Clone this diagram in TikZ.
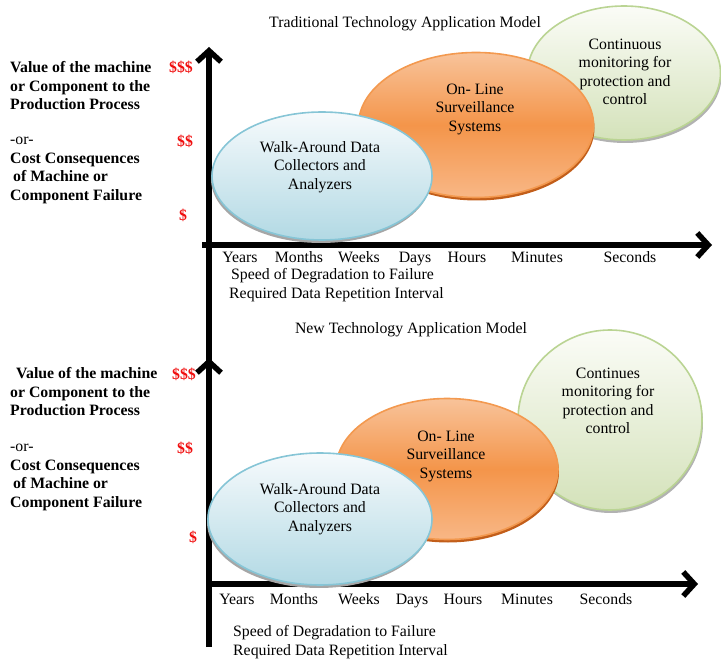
\documentclass[tikz,border=0pt]{standalone}
\usepackage{fontspec}
\setmainfont{Liberation Serif}
\usetikzlibrary{arrows.meta,shapes.geometric,shadows}
\definecolor{walkedge}{HTML}{86C5D6}
\definecolor{walktop}{HTML}{F6FAFC}
\definecolor{walkbot}{HTML}{B2D9E4}
\definecolor{lineedge}{HTML}{F3994F}
\definecolor{linetop}{HTML}{F8C39A}
\definecolor{linemid}{HTML}{F4954A}
\definecolor{linebot}{HTML}{F8B786}
\definecolor{linerim}{HTML}{C25E1A}
\definecolor{contedge}{HTML}{BAD493}
\definecolor{conttop}{HTML}{FBFCF7}
\definecolor{contbot}{HTML}{D4E2BA}
\definecolor{dollar}{HTML}{F01010}

\begin{document}
\begin{tikzpicture}[x=1pt,y=-1pt]
\tikzstyle{every node}=[font=\fontsize{15.8}{18.5}\selectfont,inner sep=0pt]
\tikzstyle{axis}=[line width=6pt,-{Straight Barb[length=11pt,width=24pt,line width=5.5pt]}]
\tikzstyle{blob}=[ellipse,line width=1.6pt]
\tikzstyle{walk}=[blob,draw=walkedge,top color=walktop,bottom color=walkbot,
  general shadow={fill=gray!70,shadow xshift=-1pt,shadow yshift=-3pt}]
\tikzstyle{online}=[blob,draw=lineedge,top color=linetop,bottom color=linebot,middle color=linemid,
  general shadow={fill=linerim,shadow xshift=1pt,shadow yshift=-3pt}]
\tikzstyle{cont}=[blob,draw=contedge,top color=conttop,bottom color=contbot,
  general shadow={fill=gray!60,shadow xshift=1pt,shadow yshift=-3pt}]
\tikzstyle{cost}=[align=left,anchor=west,font=\fontsize{15.8}{18.5}\selectfont\bfseries]
\tikzstyle{money}=[text=dollar,font=\fontsize{15.8}{18.5}\selectfont\bfseries]
\tikzstyle{tick}=[anchor=base]
\useasboundingbox (0,0) rectangle (721,660);

% traditional model
\node (title1) at (405,24) {Traditional Technology Application Model};
\coordinate (o1) at (209,432);
\coordinate (y1) at (209,47);
\coordinate (xs1) at (202,245);
\coordinate (x1) at (712,245);
\draw[axis] (o1) -- (y1);
\draw[axis] (xs1) -- (x1);
\node[cost] (val1) at (10,86) {Value of the machine\\or Component to the\\Production Process};
\node[anchor=west] (or1) at (10,141) {-or-};
\node[cost] (fail1) at (10,178) {Cost Consequences\\\hspace*{3pt}of Machine or\\Component Failure};
\node[money,anchor=east] (d3a) at (193,67) {\$\$\$};
\node[money] (d2a) at (185,141) {\$\$};
\node[money] (d1a) at (183,215) {\$};
\node[cont,minimum width=193pt,minimum height=134pt] (cont1) at (624,73) {};
\node[align=center] (contt1) at (625,72) {Continuous\\monitoring for\\protection and\\control};
\node[online,minimum width=235pt,minimum height=145pt] (line1) at (476,125) {};
\node[align=center] (linet1) at (475,109) {On- Line\\Surveillance\\Systems};
\node[walk,minimum width=220pt,minimum height=128pt] (walk1) at (322,176) {};
\node[align=center] (walkt1) at (320,167) {Walk-Around Data\\Collectors and\\Analyzers};
\foreach \t/\x in {Years/240,Months/299,Weeks/359,Days/415,Hours/467,Minutes/537,Seconds/630}
  \node[tick] (ta\t) at (\x,263) {\t};
\node[align=left,anchor=west] (speed1) at (229,285) {\hspace*{2pt}Speed of Degradation to Failure\\Required Data Repetition Interval};

% new model
\node (title2) at (411,330) {New Technology Application Model};
\coordinate (o2) at (209,647);
\coordinate (y2) at (209,358);
\coordinate (x2) at (698,584);
\draw[axis] (o2) -- (y2);
\draw[axis] (o2 |- x2) -- (x2);
\node[cost] (val2) at (10,392) {\hspace*{6pt}Value of the machine\\or Component to the\\Production Process};
\node[anchor=west] (or2) at (10,448) {-or-};
\node[cost] (fail2) at (10,485) {Cost Consequences\\\hspace*{3pt}of Machine or\\Component Failure};
\node[money,anchor=east] (d3b) at (196,374) {\$\$\$};
\node[money] (d2b) at (185,448) {\$\$};
\node[money] (d1b) at (193,537) {\$};
\node[cont,minimum width=184pt,minimum height=180pt] (cont2) at (610,420) {};
\node[align=center] (contt2) at (608,401) {Continues\\monitoring for\\protection and\\control};
\node[online,minimum width=222pt,minimum height=141pt] (line2) at (447,469) {};
\node[align=center] (linet2) at (446,456) {On- Line\\Surveillance\\Systems};
\node[walk,minimum width=224pt,minimum height=132pt] (walk2) at (320,519) {};
\node[align=center] (walkt2) at (320,509) {Walk-Around Data\\Collectors and\\Analyzers};
\foreach \t/\x in {Years/237,Months/294,Weeks/359,Days/412,Hours/463,Minutes/527,Seconds/606}
  \node[tick] (tb\t) at (\x,604) {\t};
\node[align=left,anchor=west] (speed2) at (233,642) {Speed of Degradation to Failure\\Required Data Repetition Interval};
\end{tikzpicture}
\end{document}
